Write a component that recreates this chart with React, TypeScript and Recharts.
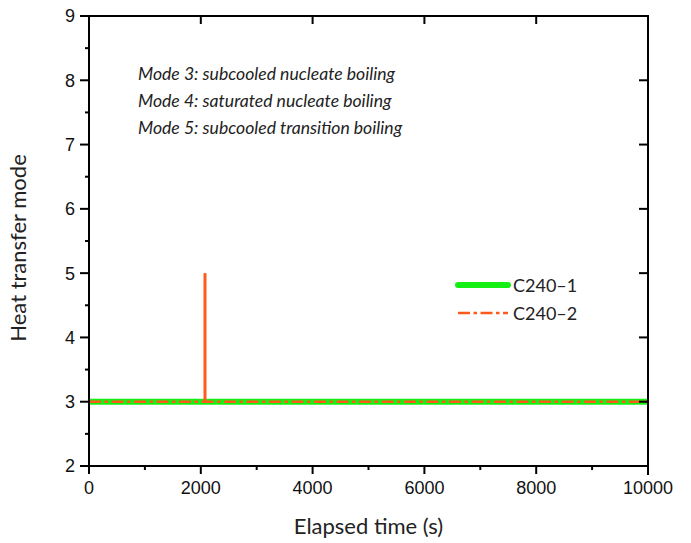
import React from 'react';
import { ComposedChart, Line, XAxis, YAxis, Legend } from 'recharts';

// ---- data ----
const timeMajorTicks = [0, 2000, 4000, 6000, 8000, 10000];
const timeMinorTicks = [1000, 3000, 5000, 7000, 9000];
const modeMajorTicks = [2, 3, 4, 5, 6, 7, 8, 9];
const modeMinorTicks = [2.5, 3.5, 4.5, 5.5, 6.5, 7.5, 8.5];
const timeDomain = [0, 10000];
const modeDomain = [2, 9];

const c2401Time = [0, 10000];
const c2401Mode = [3, 3];
const c2402Time = [0, 2075, 10000];
const c2402Mode = [3, 3, 3];
const c2402SpikeTime = [2075, 2075];
const c2402SpikeMode = [3, 5];

const annotations = [
  'Mode 3: subcooled nucleate boiling',
  'Mode 4: saturated nucleate boiling',
  'Mode 5: subcooled transition boiling',
];

const GREEN = '#14f014';
const RED = '#ff5a1a';
const DASH = '12 3.5 3.5 3.5';

const toRows = (t: number[], v: number[]) => t.map((x, i) => ({ t: x, v: v[i] }));
const c2401 = toRows(c2401Time, c2401Mode);
const c2402 = toRows(c2402Time, c2402Mode);
const c2402Spike = toRows(c2402SpikeTime, c2402SpikeMode);

const allTimeTicks = [...timeMajorTicks, ...timeMinorTicks].sort((a, b) => a - b);
const allModeTicks = [...modeMajorTicks, ...modeMinorTicks].sort((a, b) => a - b);

const legendStyles: Record<string, { color: string; width: number; dash?: string }> = {
  'C240–1': { color: GREEN, width: 6 },
  'C240–2': { color: RED, width: 2.5, dash: DASH },
};

const tickFontFamily = '"Liberation Sans", Arial, sans-serif';
const labelFont = 'Lato, "Open Sans", sans-serif';

// chart geometry
const W = 691;
const H = 543;
const M = { top: 16, right: 43, bottom: 0, left: 0 };
const X_AXIS_H = 77;
const Y_AXIS_W = 89;
const plotW = W - M.right - M.left - Y_AXIS_W;
const plotH = H - M.bottom - X_AXIS_H - M.top;

const XTick = (props: any) => {
  const { x, y, payload } = props;
  const major = timeMajorTicks.includes(payload.value);
  return (
    <g>
      <line x1={x} x2={x} y1={y} y2={y + (major ? 8 : 4)} stroke="#000" strokeWidth={2} />
      {major && (
        <text x={x} y={y + 15} dy="0.71em" textAnchor="middle" fontFamily={tickFontFamily} fontSize={18} fill="#111">
          {payload.value}
        </text>
      )}
    </g>
  );
};

const YTick = (props: any) => {
  const { x, y, payload } = props;
  const major = modeMajorTicks.includes(payload.value);
  return (
    <g>
      {payload.value === modeDomain[1] && (
        <path d={`M${x},${y - 1}V${y + plotH + 1}`} stroke="#000" strokeWidth={2} fill="none" />
      )}
      <line x1={x - (major ? 9 : 4)} x2={x} y1={y} y2={y} stroke="#000" strokeWidth={2} />
      {major && (
        <text x={x - 14} y={y} dy="0.355em" textAnchor="end" fontFamily={tickFontFamily} fontSize={18} fill="#111">
          {payload.value}
        </text>
      )}
    </g>
  );
};

const TopTick = (props: any) => {
  const { x, y, payload } = props;
  return (
    <g>
      {payload.value === timeDomain[0] && (
        <path d={`M${x - 1},${y}H${x + plotW + 1}`} stroke="#000" strokeWidth={2} fill="none" />
      )}
      <line x1={x} x2={x} y1={y} y2={y + 8} stroke="#000" strokeWidth={2} />
    </g>
  );
};

const RightTick = (props: any) => {
  const { x, y, payload } = props;
  return (
    <g>
      {payload.value === modeDomain[1] && (
        <path d={`M${x},${y - 1}V${y + plotH + 9}`} stroke="#000" strokeWidth={2} fill="none" />
      )}
      <line x1={x - 9} x2={x} y1={y} y2={y} stroke="#000" strokeWidth={2} />
    </g>
  );
};

const LegendContent = (props: any) => {
  const items = (props.payload || []).filter((p: any) => legendStyles[p.value]);
  return (
    <svg width={150} height={56} style={{ display: 'block' }}>
      {items.map((p: any, i: number) => {
        const s = legendStyles[p.value];
        const y = 13 + i * 28;
        return (
          <g key={p.value}>
            <line
              x1={6}
              x2={56}
              y1={y}
              y2={y}
              stroke={s.color}
              strokeWidth={s.width}
              strokeDasharray={s.dash}
              strokeLinecap={s.dash ? 'butt' : 'round'}
            />
            <text x={61} y={y} dominantBaseline="central" fontFamily={labelFont} fontSize={18} fill="#222">
              {p.value}
            </text>
          </g>
        );
      })}
    </svg>
  );
};

const YTitle = (props: any) => {
  const vb = props.viewBox || {};
  const cx = 26;
  const cy = vb.y + vb.height / 2 + 7;
  return (
    <text
      x={cx}
      y={cy}
      transform={`rotate(-90 ${cx} ${cy})`}
      textAnchor="middle"
      fontFamily={labelFont}
      fontSize={22}
      fill="#222"
    >
      Heat transfer mode
    </text>
  );
};

const XTitle = (props: any) => {
  const vb = props.viewBox || {};
  const cx = vb.x + vb.width / 2;
  return (
    <text x={cx} y={534} textAnchor="middle" fontFamily={labelFont} fontSize={22} fill="#222">
      Elapsed time (s)
    </text>
  );
};

const frame = { stroke: '#000', strokeWidth: 2 };

export default function App() {
  return (
    <div style={{ position: 'absolute', left: 0, top: 0, width: W, height: H, background: '#fff' }}>
      <ComposedChart width={W} height={H} margin={M}>
        {/* box: top and right */}
        <XAxis
          xAxisId="top"
          orientation="top"
          type="number"
          dataKey="t"
          domain={timeDomain}
          allowDataOverflow
          ticks={timeMajorTicks}
          interval={0}
          height={1}
          mirror
          axisLine={frame}
          tickSize={0}
          tickMargin={0}
          tickLine={false}
          tick={<TopTick />}
        />
        <YAxis
          yAxisId="right"
          orientation="right"
          type="number"
          domain={modeDomain}
          allowDataOverflow
          ticks={modeMajorTicks}
          interval={0}
          width={1}
          mirror
          axisLine={frame}
          tickSize={0}
          tickMargin={0}
          tickLine={false}
          tick={<RightTick />}
        />
        {/* main axes */}
        <XAxis
          type="number"
          dataKey="t"
          domain={timeDomain}
          allowDataOverflow
          ticks={allTimeTicks}
          interval={0}
          height={X_AXIS_H}
          axisLine={frame}
          tickSize={0}
          tickMargin={0}
          tickLine={false}
          tick={<XTick />}
          label={<XTitle />}
        />
        <YAxis
          type="number"
          domain={modeDomain}
          allowDataOverflow
          ticks={allModeTicks}
          interval={0}
          width={Y_AXIS_W}
          axisLine={frame}
          tickSize={0}
          tickMargin={0}
          tickLine={false}
          tick={<YTick />}
          label={<YTitle />}
        />
        <Legend
          layout="vertical"
          verticalAlign="middle"
          align="center"
          content={<LegendContent />}
          wrapperStyle={{ position: 'absolute', left: 452, top: 272, width: 150, height: 56 }}
        />
        <Line
          data={c2401}
          dataKey="v"
          name="C240–1"
          stroke={GREEN}
          strokeWidth={6}
          dot={false}
          activeDot={false}
          isAnimationActive={false}
        />
        <Line
          data={c2402Spike}
          dataKey="v"
          name="C240–2 spike"
          legendType="none"
          stroke={RED}
          strokeWidth={3}
          dot={false}
          activeDot={false}
          isAnimationActive={false}
        />
        <Line
          data={c2402}
          dataKey="v"
          name="C240–2"
          stroke={RED}
          strokeWidth={2.5}
          strokeDasharray={DASH}
          dot={false}
          activeDot={false}
          isAnimationActive={false}
        />
      </ComposedChart>
      <div
        style={{
          position: 'absolute',
          left: 138,
          top: 60,
          fontFamily: labelFont,
          fontStyle: 'italic',
          fontSize: 17.6,
          lineHeight: '27px',
          color: '#222',
          whiteSpace: 'nowrap',
        }}
      >
        {annotations.map((a) => (
          <div key={a}>{a}</div>
        ))}
      </div>
    </div>
  );
}
